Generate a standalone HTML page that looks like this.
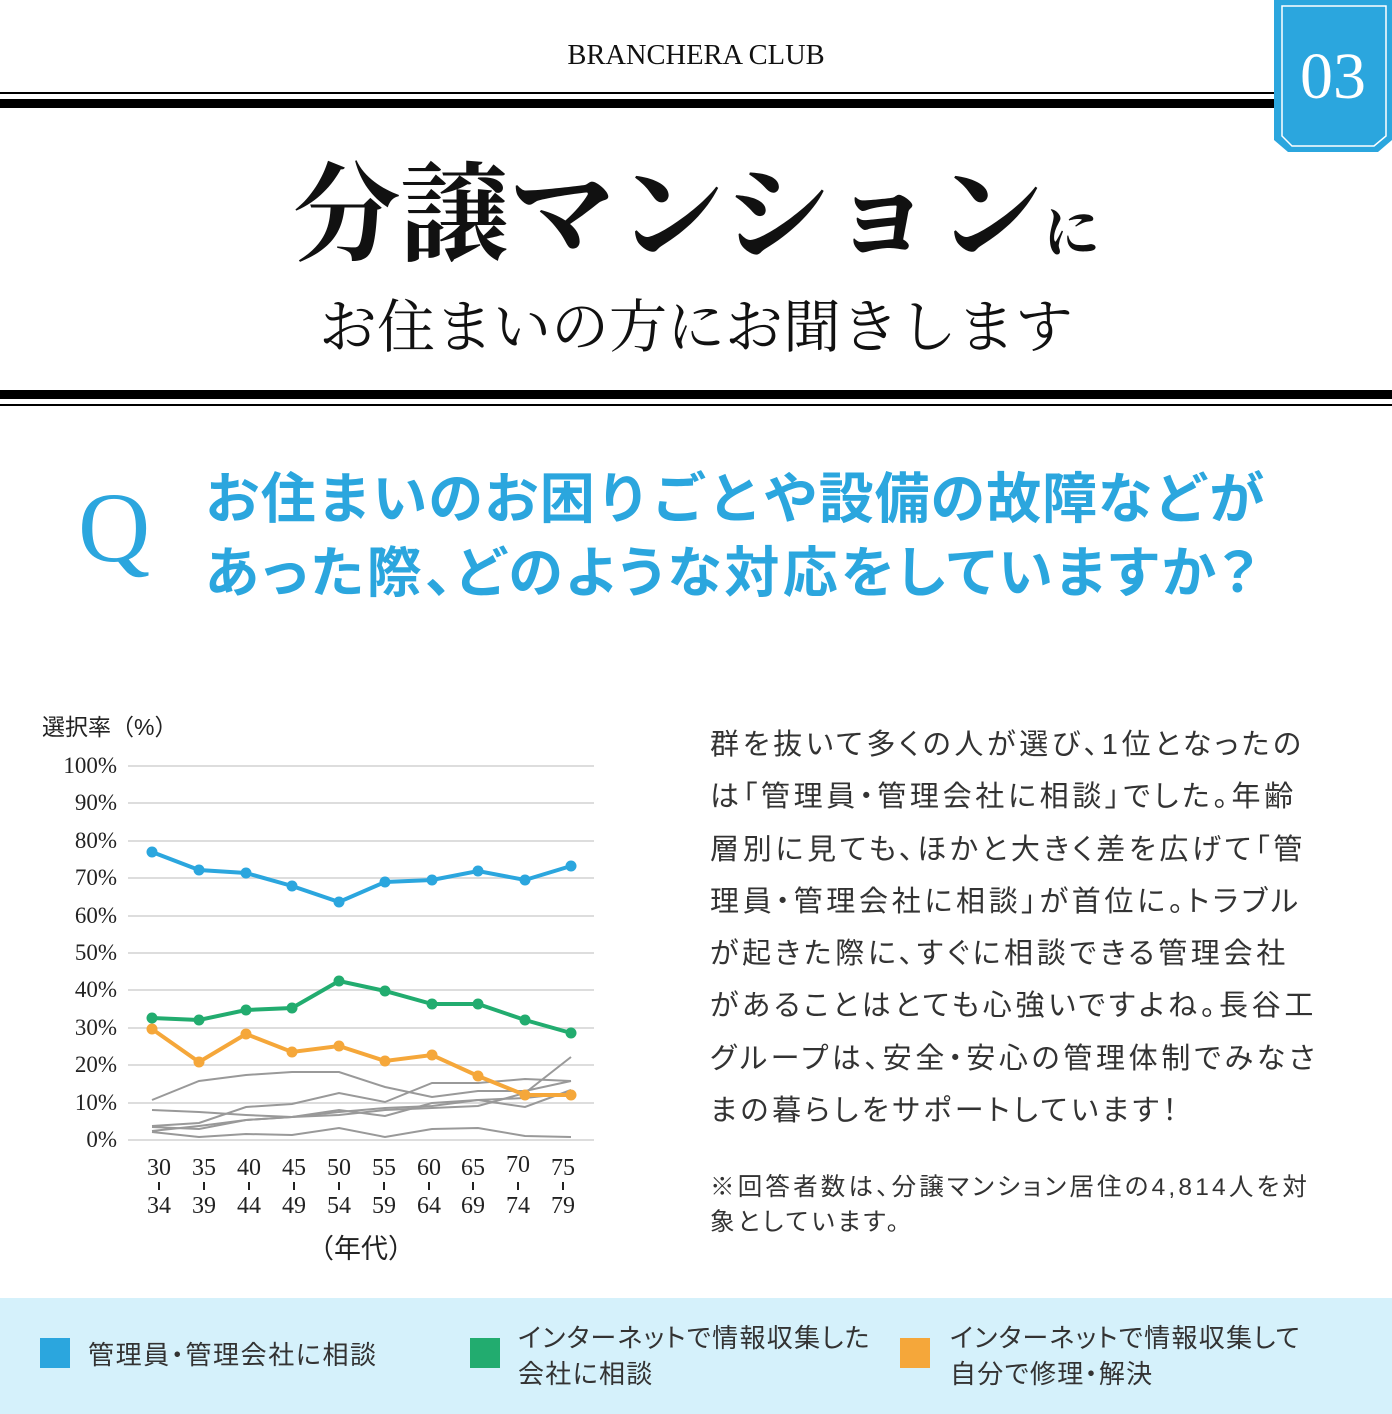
<!DOCTYPE html><html><head><meta charset="utf-8"><style>
body{margin:0;width:1392px;height:1414px;background:#fff;position:relative;overflow:hidden;font-family:"Liberation Sans","Noto Sans CJK JP",sans-serif;color:#222}
.a{position:absolute}
.p{font-feature-settings:"palt"}
</style></head><body>
<div class="a" style="left:0;top:40px;width:1392px;text-align:center;font:28.5px 'Liberation Serif',serif;color:#111">BRANCHERA CLUB</div>
<div class="a" style="left:0;top:92px;width:1280px;height:2px;background:#000"></div>
<div class="a" style="left:0;top:99px;width:1280px;height:9px;background:#000"></div>
<svg class="a" style="left:1274px;top:0" width="118" height="154"><polygon points="0,0 118,0 118,140 104,152 14,152 0,140" fill="#2ba6de"/><polygon points="8,6 112,6 112,136 100,146 18,146 8,136" fill="none" stroke="#fff" stroke-width="1.5"/><text x="59" y="98" text-anchor="middle" font-family="Liberation Serif,serif" font-size="66" fill="#fff">03</text></svg>
<div class="a" style="left:0;top:128px;width:1392px;text-align:center;font-family:'Noto Serif CJK JP','Noto Serif CJK SC',serif;font-weight:bold;color:#111;white-space:nowrap"><span style="font-size:108px">分譲マンション</span><span style="font-size:56px">に</span></div>
<div class="a" style="left:0;top:280px;width:1392px;text-align:center;font:58px 'Noto Serif CJK JP','Noto Serif CJK SC',serif;color:#111;letter-spacing:0px">お住まいの方にお聞きします</div>
<div class="a" style="left:0;top:390px;width:1392px;height:9px;background:#000"></div>
<div class="a" style="left:0;top:404px;width:1392px;height:2px;background:#000"></div>
<div class="a" style="left:78px;top:470px;font:100px 'Liberation Serif',serif;color:#2ba6de">Q</div>
<div class="a" style="left:205px;top:462px;font-weight:bold;font-size:55px;line-height:74px;color:#2ba6de;white-space:nowrap"><span style="letter-spacing:0.8px">お住まいのお困りごとや設備の故障などが</span><br><span class="p" style="letter-spacing:3.3px">あった際、どのような対応をしていますか？</span></div>
<svg class="a" style="left:0;top:700px" width="640" height="580" font-family="Liberation Serif,serif" font-size="23" fill="#222">
<text x="42" y="35" font-family="Liberation Sans,Noto Sans CJK JP,sans-serif" font-size="23">選択率（%）</text>
<g stroke="#ddd" stroke-width="2">
<line x1="128" x2="594" y1="66" y2="66"/><line x1="128" x2="594" y1="103" y2="103"/><line x1="128" x2="594" y1="141" y2="141"/><line x1="128" x2="594" y1="178" y2="178"/><line x1="128" x2="594" y1="216" y2="216"/><line x1="128" x2="594" y1="253" y2="253"/><line x1="128" x2="594" y1="290" y2="290"/><line x1="128" x2="594" y1="328" y2="328"/><line x1="128" x2="594" y1="365" y2="365"/><line x1="128" x2="594" y1="403" y2="403"/><line x1="128" x2="594" y1="440" y2="440"/></g>
<g text-anchor="end"><text x="117" y="73">100%</text><text x="117" y="110">90%</text><text x="117" y="148">80%</text><text x="117" y="185">70%</text><text x="117" y="223">60%</text><text x="117" y="260">50%</text><text x="117" y="297">40%</text><text x="117" y="335">30%</text><text x="117" y="372">20%</text><text x="117" y="410">10%</text><text x="117" y="447">0%</text></g>
<g transform="translate(0,-700)" fill="none" stroke="#999" stroke-width="2">
<polyline points="152,1100 199,1081 246,1075 292,1072 339,1072 385,1087 432,1097 478,1091 525,1091 571,1081"/>
<polyline points="152,1110 199,1112 246,1115 292,1117 339,1112 385,1108 432,1106 478,1100 525,1098 571,1093"/>
<polyline points="152,1126 199,1123 246,1107 292,1104 339,1093 385,1102 432,1083 478,1083 525,1079 571,1081"/>
<polyline points="152,1127 199,1129 246,1120 292,1117 339,1110 385,1116 432,1103 478,1100 525,1107 571,1090"/>
<polyline points="152,1131 199,1126 246,1120 292,1117 339,1115 385,1110 432,1108 478,1106 525,1093 571,1057"/>
<polyline points="152,1132 199,1137 246,1134 292,1135 339,1128 385,1137 432,1129 478,1128 525,1136 571,1137"/>
</g>
<g transform="translate(0,-700)" stroke-width="4">
<polyline fill="none" stroke="#2ba6de" points="152,852 199,870 246,873 292,886 339,902 385,882 432,880 478,871 525,880 571,866"/>
<polyline fill="none" stroke="#22ac6f" points="152,1018 199,1020 246,1010 292,1008 339,981 385,991 432,1004 478,1004 525,1020 571,1033"/>
<polyline fill="none" stroke="#f5a73a" points="152,1029 199,1062 246,1034 292,1052 339,1046 385,1061 432,1055 478,1076 525,1095 571,1095"/>
<g fill="#2ba6de" stroke="none"><circle cx="152" cy="852" r="5.5"/><circle cx="199" cy="870" r="5.5"/><circle cx="246" cy="873" r="5.5"/><circle cx="292" cy="886" r="5.5"/><circle cx="339" cy="902" r="5.5"/><circle cx="385" cy="882" r="5.5"/><circle cx="432" cy="880" r="5.5"/><circle cx="478" cy="871" r="5.5"/><circle cx="525" cy="880" r="5.5"/><circle cx="571" cy="866" r="5.5"/></g>
<g fill="#22ac6f" stroke="none"><circle cx="152" cy="1018" r="5.5"/><circle cx="199" cy="1020" r="5.5"/><circle cx="246" cy="1010" r="5.5"/><circle cx="292" cy="1008" r="5.5"/><circle cx="339" cy="981" r="5.5"/><circle cx="385" cy="991" r="5.5"/><circle cx="432" cy="1004" r="5.5"/><circle cx="478" cy="1004" r="5.5"/><circle cx="525" cy="1020" r="5.5"/><circle cx="571" cy="1033" r="5.5"/></g>
<g fill="#f5a73a" stroke="none"><circle cx="152" cy="1029" r="5.5"/><circle cx="199" cy="1062" r="5.5"/><circle cx="246" cy="1034" r="5.5"/><circle cx="292" cy="1052" r="5.5"/><circle cx="339" cy="1046" r="5.5"/><circle cx="385" cy="1061" r="5.5"/><circle cx="432" cy="1055" r="5.5"/><circle cx="478" cy="1076" r="5.5"/><circle cx="525" cy="1095" r="5.5"/><circle cx="571" cy="1095" r="5.5"/></g>
</g>
<g text-anchor="middle" font-size="24">
<text x="159" y="475">30</text><text x="204" y="475">35</text><text x="249" y="475">40</text><text x="294" y="475">45</text><text x="339" y="475">50</text><text x="384" y="475">55</text><text x="429" y="475">60</text><text x="473" y="475">65</text><text x="518" y="472">70</text><text x="563" y="475">75</text>
<text x="159" y="513">34</text><text x="204" y="513">39</text><text x="249" y="513">44</text><text x="294" y="513">49</text><text x="339" y="513">54</text><text x="384" y="513">59</text><text x="429" y="513">64</text><text x="473" y="513">69</text><text x="518" y="513">74</text><text x="563" y="513">79</text></g>
<g stroke="#222" stroke-width="2"><line x1="159" x2="159" y1="482" y2="490"/><line x1="204" x2="204" y1="482" y2="490"/><line x1="249" x2="249" y1="482" y2="490"/><line x1="294" x2="294" y1="482" y2="490"/><line x1="339" x2="339" y1="482" y2="490"/><line x1="384" x2="384" y1="482" y2="490"/><line x1="429" x2="429" y1="482" y2="490"/><line x1="473" x2="473" y1="482" y2="490"/><line x1="518" x2="518" y1="482" y2="490"/><line x1="563" x2="563" y1="482" y2="490"/></g>
<text x="361" y="558" text-anchor="middle" font-family="Liberation Sans,Noto Sans CJK JP,sans-serif" font-size="27">（年代）</text>
</svg>
<div class="a p" style="left:710px;top:719px;font-size:29px;line-height:52.3px;letter-spacing:3.7px;color:#333;white-space:nowrap">群を抜いて多くの人が選び、1位となったの<br>は「管理員・管理会社に相談」でした。年齢<br>層別に見ても、ほかと大きく差を広げて「管<br>理員・管理会社に相談」が首位に。トラブル<br>が起きた際に、すぐに相談できる管理会社<br>があることはとても心強いですよね。長谷工<br>グループは、安全・安心の管理体制でみなさ<br>まの暮らしをサポートしています！</div>
<div class="a p" style="left:710px;top:1170px;font-size:24.5px;line-height:35px;color:#333;white-space:nowrap;letter-spacing:3.2px">※回答者数は、分譲マンション居住の4,814人を対<br>象としています。</div>
<div class="a" style="left:0;top:1298px;width:1392px;height:116px;background:#d5f1fb"></div>
<div class="a" style="left:40px;top:1338px;width:30px;height:30px;background:#2ba6de"></div>
<div class="a p" style="left:88px;top:1336px;font-size:26px;line-height:38px;color:#333;letter-spacing:1.6px;white-space:nowrap">管理員・管理会社に相談</div>
<div class="a" style="left:470px;top:1338px;width:30px;height:30px;background:#22ac6f"></div>
<div class="a p" style="left:518px;top:1320px;font-size:26px;line-height:36px;color:#333;white-space:nowrap;letter-spacing:1.3px">インターネットで情報収集した<br>会社に相談</div>
<div class="a" style="left:900px;top:1338px;width:30px;height:30px;background:#f5a73a"></div>
<div class="a p" style="left:950px;top:1320px;font-size:26px;line-height:36px;color:#333;white-space:nowrap;letter-spacing:1.3px">インターネットで情報収集して<br>自分で修理・解決</div>
</body></html>
